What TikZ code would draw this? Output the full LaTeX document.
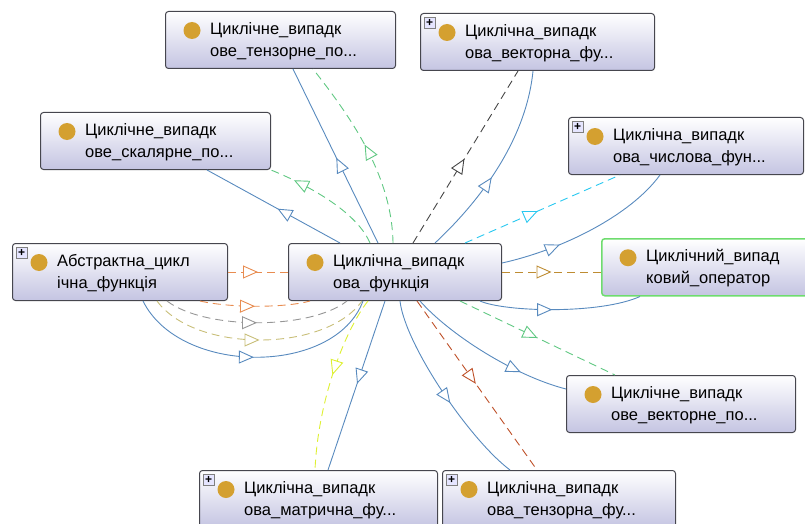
\documentclass[tikz,border=0pt]{standalone}
\usepackage{fontspec}
\setmainfont{Liberation Sans}
\usetikzlibrary{arrows.meta,decorations.markings}

\definecolor{boxlav}{RGB}{196,196,226}
\definecolor{boxedge}{RGB}{70,70,78}
\definecolor{opgreen}{RGB}{110,220,110}
\definecolor{ballc}{RGB}{212,160,48}
\definecolor{eblue}{RGB}{88,138,190}
\definecolor{egreen}{RGB}{96,200,130}
\definecolor{edark}{RGB}{70,70,70}
\definecolor{ecyan}{RGB}{40,200,240}
\definecolor{ebrown}{RGB}{190,140,50}
\definecolor{erust}{RGB}{190,80,40}
\definecolor{eorange}{RGB}{232,140,80}
\definecolor{egray}{RGB}{150,150,150}
\definecolor{ekhaki}{RGB}{200,190,120}
\definecolor{eyellow}{RGB}{222,240,50}

\begin{document}
\begin{tikzpicture}[x=1pt, y=-1pt,
    font=\fontsize{16.5}{22}\selectfont,
    cls/.style={draw=boxedge, line width=1pt, rounded corners=3pt, top color=white,
        bottom color=boxlav, anchor=north west, minimum height=57pt, inner sep=0pt},
    opcls/.style={cls, draw=opgreen, line width=1.5pt},
    txt/.style={anchor=west, align=left, inner sep=0pt},
    ball/.style={circle, fill=ballc, minimum size=17pt, inner sep=0pt},
    plus/.style={draw=gray, fill=blue!10, minimum size=11pt, inner sep=0pt, anchor=north west,
        font=\bfseries\fontsize{12}{12}\selectfont},
    ln/.style={line width=0.9pt},
    dsh/.style={line width=0.9pt, dash pattern=on 8pt off 5pt},
    arr/.style={postaction={decorate}, decoration={markings, mark=at position #1 with
        {\arrow[solid]{Triangle[length=15pt, width=13pt, fill=white, line width=0.9pt]}}}},
    arr/.default=0.5]
\clip (0,0) rectangle (805,524);

% classes: name/style/x/y/width/first line/second line
\foreach \n/\s/\x/\y/\w/\a/\b in {
    tp/cls/165/11/230/Циклічне\_випадк/ове\_тензорне\_по.{}.{}.,
    vf/cls/420/13/234/Циклічна\_випадк/ова\_векторна\_фу.{}.{}.,
    sp/cls/40/112/230/Циклічне\_випадк/ове\_скалярне\_по.{}.{}.,
    nf/cls/568/117/235/Циклічна\_випадк/ова\_числова\_фун.{}.{}.,
    a/cls/12/243/215/Абстрактна\_цикл/ічна\_функція,
    c/cls/288/243/213/Циклічна\_випадк/ова\_функція,
    op/opcls/601/238/230/Циклічний\_випад/ковий\_оператор,
    vp/cls/566/375/229/Циклічне\_випадк/ове\_векторне\_по.{}.{}.,
    mf/cls/199/470/238/Циклічна\_випадк/ова\_матрична\_фу.{}.{}.,
    tf/cls/442/470/233/Циклічна\_випадк/ова\_тензорна\_фу.{}.{}.}
{
    \node[\s, minimum width=\w pt] (\n) at (\x,\y) {};
    \node[ball] (\n-b) at ([xshift=27pt, yshift=9.5pt]\n.west) {};
    \node[txt] (\n-t) at ([xshift=45pt, yshift=-1pt]\n.west) {\a\\\b};
}
\foreach \n in {vf,nf,a,mf,tf}
    \node[plus] (\n-p) at ([xshift=4pt, yshift=-4pt]\n.north west) {+};

% from the abstract class
\draw[dsh, eorange, arr] (a.east) -- (c.west);
\draw[dsh, eorange, arr] ([xshift=188pt]a.south west) .. controls +(30,7) and +(-25,7) .. ([xshift=22pt]c.south west);
\draw[dsh, egray, arr] ([xshift=155pt]a.south west) .. controls +(38,29) and +(-37,29) .. ([xshift=59pt]c.south west);
\draw[dsh, ekhaki, arr] ([xshift=145pt]a.south west) .. controls +(38,52) and +(-37,52) .. ([xshift=74pt]c.south west);
\draw[ln, eblue, arr] ([xshift=131pt]a.south west) .. controls +(37,75) and +(-28,75) .. ([xshift=75pt]c.south west);

% upwards
\draw[ln, eblue, arr=0.47] ([xshift=52pt]c.north west) -- ([xshift=167pt]sp.south west);
\draw[dsh, egreen, arr=0.8] ([xshift=82pt]c.north west) .. controls +(-15,-35) and +(27,11) .. (sp.south east);
\draw[ln, eblue, arr=0.49] ([xshift=90pt]c.north west) -- ([xshift=128pt]tp.south west);
\draw[dsh, egreen, arr=0.53] ([xshift=105pt]c.north west) .. controls +(-1,-68) and +(37,47) .. ([xshift=148pt]tp.south west);
\draw[dsh, edark, arr=0.49] ([xshift=125pt]c.north west) -- ([xshift=98pt]vf.south west);
\draw[ln, eblue, arr=0.43] ([xshift=147pt]c.north west) .. controls +(30,-28) and +(-8,80) .. ([xshift=113pt]vf.south west);
\draw[dsh, ecyan, arr=0.47] ([xshift=177pt]c.north west) -- ([xshift=52pt]nf.south west);
\draw[ln, eblue, arr=0.33] ([yshift=-20pt]c.north east) .. controls +(59,-13) and +(-30,41) .. ([xshift=92pt]nf.south west);

% to the right
\draw[dsh, ebrown, arr] (c.east) -- (c.east -| op.west);
\draw[ln, eblue, arr=0.45] ([xshift=192pt]c.south west) .. controls +(25,11) and +(-40,18) .. ([xshift=39pt]op.south west);
\draw[dsh, egreen, arr] ([xshift=172pt]c.south west) -- ([xshift=49pt]vp.north west);
\draw[ln, eblue, arr=0.72] ([xshift=132pt]c.south west) .. controls +(30,34) and +(-51,-13) .. ([yshift=15pt]vp.west);

% downwards
\draw[dsh, erust, arr=0.49] ([xshift=129pt]c.south west) -- ([xshift=95pt]tf.north west);
\draw[ln, eblue, arr=0.56] ([xshift=112pt]c.south west) .. controls +(5,44) and +(-40,-30) .. ([xshift=68pt]tf.north west);
\draw[ln, eblue, arr=0.49] ([xshift=97pt]c.south west) -- ([xshift=129pt]mf.north west);
\draw[dsh, eyellow, arr=0.46] ([xshift=80pt]c.south west) .. controls +(-23,29) and +(3,-70) .. ([xshift=116pt]mf.north west);
\end{tikzpicture}
\end{document}
